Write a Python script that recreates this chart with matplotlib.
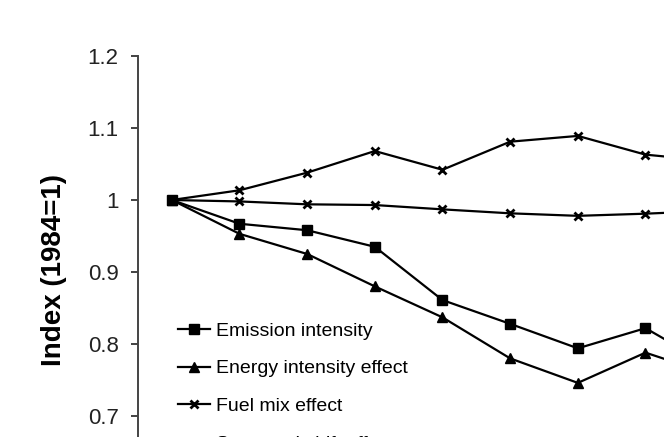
import matplotlib
matplotlib.use("Agg")
import matplotlib.pyplot as plt

plt.rcParams['font.family'] = ['Liberation Sans', 'DejaVu Sans']

years = [1984, 1985, 1986, 1987, 1988, 1989, 1990, 1991, 1992]
emission_intensity = [1.0, 0.967, 0.958, 0.935, 0.861, 0.828, 0.794, 0.822, 0.768]
energy_intensity = [1.0, 0.953, 0.925, 0.880, 0.837, 0.780, 0.746, 0.788, 0.757]
fuel_mix = [1.0, 0.998, 0.994, 0.993, 0.987, 0.9815, 0.978, 0.981, 0.985]
structural_shift = [1.0, 1.0135, 1.038, 1.068, 1.042, 1.081, 1.089, 1.063, 1.054]
yticks = [0.7, 0.8, 0.9, 1.0, 1.1, 1.2]
yticklabels = ['0.7', '0.8', '0.9', '1', '1.1', '1.2']

W, H = 664, 437
fig = plt.figure(figsize=(W / 100, H / 100), dpi=100)

# axes in pixel coordinates (extends beyond cropped figure)
ax_left, ax_right = 138, 747
ax_top, ax_bottom = 56, 488
ax = fig.add_axes([ax_left / W, (H - ax_bottom) / H,
                   (ax_right - ax_left) / W, (ax_bottom - ax_top) / H])

lw = 1.6
ax.plot(years, emission_intensity, color='black', lw=lw, marker='s', ms=7,
        label='Emission intensity')
ax.plot(years, energy_intensity, color='black', lw=lw, marker='^', ms=7,
        label='Energy intensity effect')
ax.plot(years, fuel_mix, color='black', lw=lw, marker='x', ms=6, mew=2,
        label='Fuel mix effect')
ax.plot(years, structural_shift, color='black', lw=lw, marker='x', ms=6, mew=2,
        label='Structural shift effect')

ax.set_xlim(1983.5, 1992.5)
ax.set_ylim(0.6, 1.2)
ax.set_yticks(yticks)
ax.set_yticklabels(yticklabels, fontsize=16)
ax.set_xticks([])
ax.tick_params(axis='y', direction='out', length=5, width=1.2, pad=9, colors='#222222')

for s in ['top', 'right', 'bottom']:
    ax.spines[s].set_visible(False)
ax.spines['left'].set_linewidth(1.4)
ax.spines['left'].set_color('#444444')

ax.set_ylabel('Index (1984=1)', fontsize=20, fontweight='bold')
ax.yaxis.set_label_coords((67 - ax_left) / (ax_right - ax_left), (ax_bottom - 270) / (ax_bottom - ax_top))

leg = fig.legend(loc='upper left', bbox_to_anchor=(178 / W, (H - 322) / H),
                 frameon=False, fontsize=14, borderpad=0, borderaxespad=0,
                 handlelength=1.65, handletextpad=0.3, labelspacing=1.04)

fig.savefig('out.png', dpi=100)
